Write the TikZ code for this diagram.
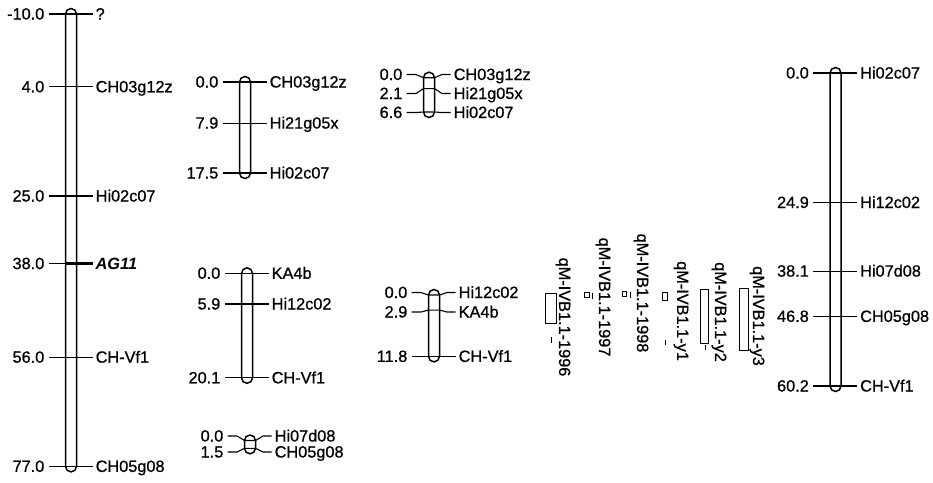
\documentclass[tikz,border=0pt]{standalone}
\usepackage{fontspec}
\setmainfont{Liberation Sans}
\newfontfamily\heavyfont[FakeBold=0.8]{Liberation Sans}
\newcommand\chrmark[6]{% #1 id, #2 cx, #3 marker y, #4 label y, #5 number, #6 name
  \node[num] (n#1) at ({#2-26.5},{#4+5.5}) {#5};
  \node[lab] (l#1) at ({#2+24.5},{#4+5.5}) {#6};
  \draw[tick] ({#2-22.5},{#4}) -- ({#2-13},{#4}) -- ({#2-5.5},{#3}) -- ({#2+5.5},{#3}) -- ({#2+13},{#4}) -- ({#2+21.5},{#4});
}
\begin{document}
\begin{tikzpicture}[x=1pt,y=-1pt,
  rod/.style={draw=black, fill=white, line width=1.5pt, rounded corners=5.5pt},
  tick/.style={line width=1.1pt, line join=round},
  num/.style={anchor=base east, inner sep=0pt, font=\heavyfont\fontsize{16.3}{18}\selectfont},
  lab/.style={anchor=base west, inner sep=0pt, font=\heavyfont\fontsize{16.3}{18}\selectfont},
  qtl/.style={rotate=-90, inner sep=0pt, font=\heavyfont\fontsize{16.3}{18}\selectfont},
  qbox/.style={draw, line width=0.9pt},
  qtick/.style={line width=0.9pt}]
\useasboundingbox (0,0) rectangle (933,482);

% chromosome A
\draw[rod] (65.5,8.5) rectangle (76.5,471.9);
\chrmark{a1}{71}{14}{14}{-10.0}{?}
\chrmark{a2}{71}{86.8}{86.8}{4.0}{CH03g12z}
\chrmark{a3}{71}{196}{196}{25.0}{Hi02c07}
\chrmark{a4}{71}{263.6}{263.6}{38.0}{{\fontspec{Liberation Sans}\bfseries\itshape AG11}}
\chrmark{a5}{71}{357.2}{357.2}{56.0}{CH-Vf1}
\chrmark{a6}{71}{466.4}{466.4}{77.0}{CH05g08}
\draw[line width=2.8pt] (65.5,263.6) -- (92.5,263.6);

% chromosome B
\draw[rod] (239.5,76.5) rectangle (250.5,178.5);
\chrmark{b1}{245}{82}{82}{0.0}{CH03g12z}
\chrmark{b2}{245}{123.1}{123.1}{7.9}{Hi21g05x}
\chrmark{b3}{245}{173}{173}{17.5}{Hi02c07}

% chromosome C
\draw[rod] (423.5,72.2) rectangle (434.5,117.5);
\chrmark{c1}{429}{77.7}{74.5}{0.0}{CH03g12z}
\chrmark{c2}{429}{88.6}{93.5}{2.1}{Hi21g05x}
\chrmark{c3}{429}{112}{112.5}{6.6}{Hi02c07}

% chromosome D
\draw[rod] (241.5,267.8) rectangle (252.5,383.3);
\chrmark{d1}{247}{273.3}{273.3}{0.0}{KA4b}
\chrmark{d2}{247}{304}{304}{5.9}{Hi12c02}
\chrmark{d3}{247}{377.8}{377.8}{20.1}{CH-Vf1}

% chromosome E
\draw[rod] (428.5,289.5) rectangle (439.5,361.9);
\chrmark{e1}{434}{295}{292.5}{0.0}{Hi12c02}
\chrmark{e2}{434}{310.1}{312}{2.9}{KA4b}
\chrmark{e3}{434}{356.4}{356.4}{11.8}{CH-Vf1}

% chromosome F
\draw[rod] (244.5,435) rectangle (255.5,453.8);
\chrmark{f1}{250}{440.5}{436}{0.0}{Hi07d08}
\chrmark{f2}{250}{448.3}{452}{1.5}{CH05g08}

% chromosome G
\draw[rod] (830,67.5) rectangle (841,391.5);
\chrmark{g1}{835.5}{73}{73}{0.0}{Hi02c07}
\chrmark{g2}{835.5}{202.5}{202.5}{24.9}{Hi12c02}
\chrmark{g3}{835.5}{271.1}{271.1}{38.1}{Hi07d08}
\chrmark{g4}{835.5}{316.4}{316.4}{46.8}{CH05g08}
\chrmark{g5}{835.5}{386}{386}{60.2}{CH-Vf1}

% QTLs
\draw[qbox] (545,293) rectangle (556,323);
\draw[qtick] (551,337) -- (551,343);
\node[qtl] (q1) at (563,317) {qM-IVB1.1-1996};
\draw[qbox] (584,292) rectangle (589,297);
\draw[qtick] (592,293) -- (592,299);
\node[qtl] (q2) at (603,297) {qM-IVB1.1-1997};
\draw[qbox] (622,291) rectangle (626,296);
\draw[qtick] (630,292) -- (630,298);
\node[qtl] (q3) at (641,293) {qM-IVB1.1-1998};
\draw[qbox] (662,292) rectangle (667,300);
\draw[qtick] (665,340) -- (665,345);
\node[qtl] (q4) at (681,311) {qM-IVB1.1-y1};
\draw[qbox] (700,289) rectangle (708,343);
\draw[qtick] (705,345) -- (705,350);
\node[qtl] (q5) at (719,312) {qM-IVB1.1-y2};
\draw[qbox] (739,288) rectangle (748,350);
\node[qtl] (q6) at (757,316) {qM-IVB1.1-y3};
\end{tikzpicture}
\end{document}
